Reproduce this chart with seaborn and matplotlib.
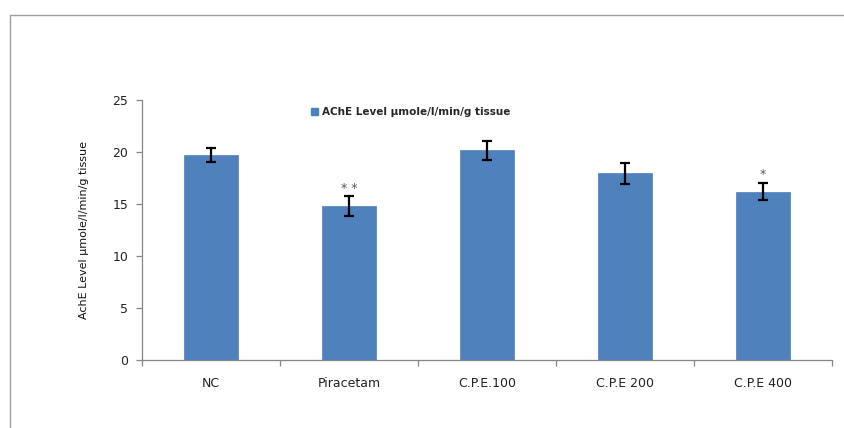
import matplotlib
matplotlib.use("Agg")
import matplotlib.pyplot as plt
from matplotlib.lines import Line2D
from matplotlib.patches import Patch
import seaborn as sns
import pandas as pd
import numpy as np

groups = ["NC", "Piracetam", "C.P.E.100", "C.P.E 200", "C.P.E 400"]
ache_level = [19.7, 14.8, 20.15, 17.95, 16.2]
ache_sem = [0.65, 0.95, 0.95, 1.0, 0.85]
significance = ["", "* *", "", "", "*"]

sns.set_theme(style="white")
plt.rcParams["font.family"] = ["DejaVu Sans"]

bar_color = "#4F81BD"
axis_gray = "#868686"

df = pd.DataFrame({"group": groups, "level": ache_level})

fig = plt.figure(figsize=(8.45, 4.28), dpi=100)
ax = fig.add_axes([142 / 845, 1 - 360 / 428, 690 / 845, 260 / 428])

sns.barplot(data=df, x="group", y="level", color=bar_color, saturation=1,
            width=0.39, ax=ax, errorbar=None)
for p in ax.patches:
    p.set_edgecolor(bar_color)
    p.set_linewidth(0.5)

xs = np.arange(len(groups))
ax.errorbar(xs, ache_level, yerr=ache_sem, fmt="none", ecolor="black",
            elinewidth=1.6, capsize=3.5, capthick=1.6)

for x, v, e, s in zip(xs, ache_level, ache_sem, significance):
    if s:
        ax.text(x, v + e + 0.15, s, ha="center", va="bottom", fontsize=9,
                color="#555555")

ax.set_xlim(-0.5, len(groups) - 0.5)
ax.set_ylim(0, 25)
ax.set_yticks([0, 5, 10, 15, 20, 25])
ax.set_xlabel("")
ax.set_ylabel("AchE Level µmole/l/min/g tissue", fontsize=8,
              color="#111111", labelpad=17)

for side in ["top", "right"]:
    ax.spines[side].set_visible(False)
for side in ["left", "bottom"]:
    ax.spines[side].set_color(axis_gray)
    ax.spines[side].set_linewidth(0.9)

ax.tick_params(axis="y", which="major", left=True, length=4, width=0.9,
               color=axis_gray, labelsize=9, labelcolor="#222222", pad=6)
ax.tick_params(axis="x", which="major", bottom=False, length=0,
               labelsize=9, labelcolor="#222222", pad=12)
ax.set_xticks(np.arange(-0.5, len(groups)), minor=True)
ax.tick_params(axis="x", which="minor", bottom=True, length=4, width=0.9,
               color=axis_gray)

legend_handle = Patch(facecolor=bar_color, edgecolor=bar_color)
leg = ax.legend([legend_handle], ["AChE Level µmole/l/min/g tissue"],
                loc="upper left", bbox_to_anchor=(0.235, 1.0), frameon=False,
                prop={"size": 7.5, "weight": "bold"},
                handlelength=0.6, handleheight=0.6, handletextpad=0.4,
                borderaxespad=0.3)

# outer frame around the chart area
fig.add_artist(Line2D([10 / 845, 10 / 845], [0, 1 - 15 / 428],
                      transform=fig.transFigure, color="#a0a0a0", lw=1.0))
fig.add_artist(Line2D([10 / 845, 1], [1 - 15 / 428, 1 - 15 / 428],
                      transform=fig.transFigure, color="#a0a0a0", lw=1.0))

fig.savefig("out.png", dpi=100)
